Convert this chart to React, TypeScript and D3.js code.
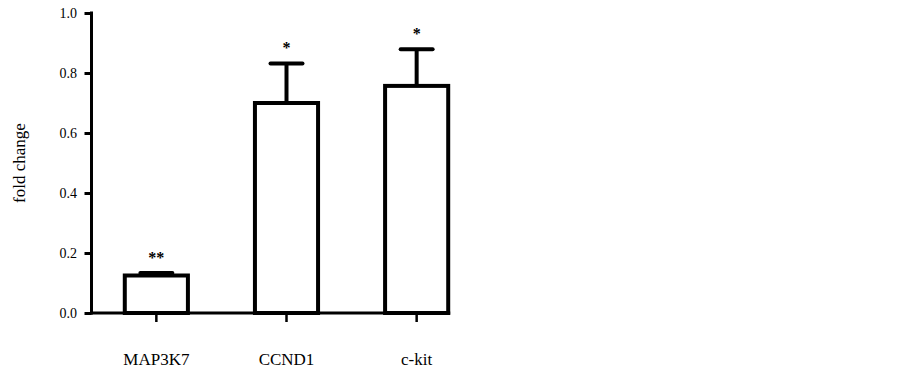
import * as d3 from 'd3';
import React, { useRef, useEffect } from 'react';

const genes = ['MAP3K7', 'CCND1', 'c-kit'];
const foldChange = [0.125, 0.70, 0.757];
const sem = [0.008, 0.132, 0.122];
const stars = ['**', '*', '*'];
const yTicks = [0.0, 0.2, 0.4, 0.6, 0.8, 1.0];

const width = 903;
const height = 370;
const FONT = "'Liberation Serif', 'Times New Roman', serif";

function App() {
  const ref = useRef<SVGSVGElement>(null);

  useEffect(() => {
    draw();
  }, []);

  const draw = () => {
    const svg = d3.select(ref.current);
    svg.selectAll('*').remove();

    const axisX = 91.5;
    const y = d3.scaleLinear().domain([0, 1]).range([313, 13]);
    const x = d3.scaleBand()
      .domain(genes)
      .range([92.25, 480.75])
      .paddingInner(0.515)
      .paddingOuter(0.25);

    const data = genes.map((g, i) => ({ name: g, value: foldChange[i], err: sem[i], mark: stars[i] }));

    // y axis
    const yAxis = svg.append('g')
      .attr('transform', `translate(${axisX},0)`)
      .call(d3.axisLeft(y).tickValues(yTicks).tickFormat(d3.format('.1f')).tickSize(7).tickSizeOuter(0).tickPadding(7.5));
    yAxis.select('.domain').remove();
    yAxis.selectAll('line').attr('stroke', '#000').attr('stroke-width', 3);
    yAxis.selectAll('text')
      .attr('font-family', FONT)
      .attr('font-size', 14)
      .attr('fill', '#000');
    svg.append('line')
      .attr('x1', axisX).attr('x2', axisX)
      .attr('y1', y(1) - 1.5).attr('y2', y(0) + 1.5)
      .attr('stroke', '#000').attr('stroke-width', 3);

    // x axis
    const xAxis = svg.append('g')
      .attr('transform', `translate(0,${y(0)})`)
      .call(d3.axisBottom(x).tickSize(9).tickSizeOuter(0).tickPadding(31));
    xAxis.select('.domain').remove();
    xAxis.selectAll('line').attr('stroke', '#000').attr('stroke-width', 2.5);
    xAxis.selectAll('text')
      .attr('font-family', FONT)
      .attr('font-size', 17)
      .attr('fill', '#000');
    const lastGene = genes[genes.length - 1];
    svg.append('line')
      .attr('x1', axisX - 1.5)
      .attr('x2', (x(lastGene) as number) + x.bandwidth() + 2)
      .attr('y1', y(0)).attr('y2', y(0))
      .attr('stroke', '#000').attr('stroke-width', 3);

    const bars = svg.append('g');

    // error bars
    bars.selectAll('line.err')
      .data(data)
      .enter()
      .append('line')
      .attr('class', 'err')
      .attr('x1', (d) => (x(d.name) as number) + x.bandwidth() / 2)
      .attr('x2', (d) => (x(d.name) as number) + x.bandwidth() / 2)
      .attr('y1', (d) => y(d.value))
      .attr('y2', (d) => y(d.value + d.err))
      .attr('stroke', '#000').attr('stroke-width', 4);

    bars.selectAll('line.cap')
      .data(data)
      .enter()
      .append('line')
      .attr('class', 'cap')
      .attr('x1', (d) => (x(d.name) as number) + x.bandwidth() / 2 - 16)
      .attr('x2', (d) => (x(d.name) as number) + x.bandwidth() / 2 + 16)
      .attr('y1', (d) => y(d.value + d.err))
      .attr('y2', (d) => y(d.value + d.err))
      .attr('stroke', '#000').attr('stroke-width', 4)
      .attr('stroke-linecap', 'round');

    bars.selectAll('rect')
      .data(data)
      .enter()
      .append('rect')
      .attr('x', (d) => x(d.name) as number)
      .attr('y', (d) => y(d.value))
      .attr('width', x.bandwidth())
      .attr('height', (d) => y(0) - y(d.value))
      .attr('fill', '#fff')
      .attr('stroke', '#000')
      .attr('stroke-width', 4);

    // significance stars
    bars.selectAll('text.star')
      .data(data)
      .enter()
      .append('text')
      .attr('class', 'star')
      .attr('x', (d) => (x(d.name) as number) + x.bandwidth() / 2)
      .attr('y', (d) => y(d.value + d.err) - 10)
      .attr('text-anchor', 'middle')
      .attr('font-family', FONT)
      .attr('font-size', 16)
      .attr('font-weight', 'bold')
      .attr('fill', '#000')
      .text((d) => d.mark);

    // y label
    svg.append('text')
      .attr('transform', `translate(25,163) rotate(-90)`)
      .attr('text-anchor', 'middle')
      .attr('font-family', FONT)
      .attr('font-size', 17)
      .attr('fill', '#000')
      .text('fold change');
  };

  return (
    <div className="chart" style={{ position: 'absolute', left: 0, top: 0 }}>
      <svg ref={ref} width={width} height={height} style={{ display: 'block', background: '#fff' }}>
      </svg>
    </div>
  );
}

export default App;
